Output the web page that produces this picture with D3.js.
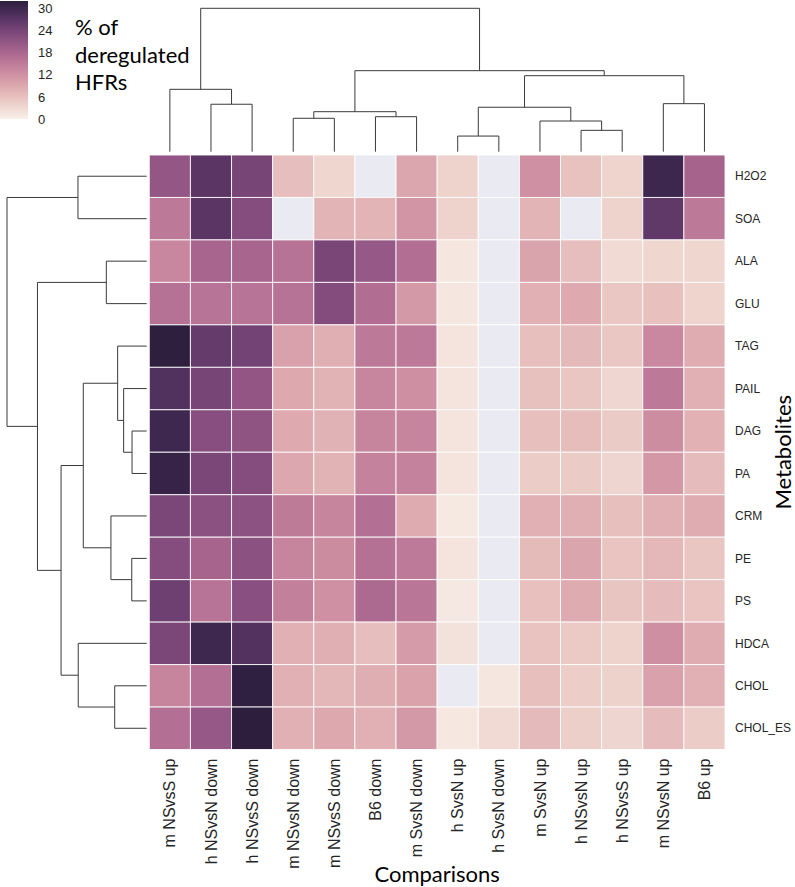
<!DOCTYPE html>
<html>
<head>
<meta charset="utf-8">
<script src="https://cdn.jsdelivr.net/npm/d3@7"></script>
<style>
  html, body { margin: 0; padding: 0; background: #ffffff; }
  svg { display: block; }
</style>
</head>
<body>
<svg id="chart" width="795" height="887"></svg>
<script>
// ---------- data ----------
const rowLabels = ["H2O2","SOA","ALA","GLU","TAG","PAIL","DAG","PA","CRM","PE","PS","HDCA","CHOL","CHOL_ES"];
const colLabels = ["m NSvsS up","h NSvsN down","h NSvsS down","m NSvsN down","m NSvsS down","B6 down","m SvsN down","h SvsN up","h SvsN down","m SvsN up","h NSvsN up","h NSvsS up","m NSvsN up","B6 up"];

// % of deregulated HFRs (null = no value, drawn as background)
const valH2O2   = [20.7, 27.0, 24.0,  6.3,  3.4, null,  9.3, 3.7, null, 12.2, 5.8, 3.6, 30.2, 18.5];
const valSOA    = [15.3, 27.0, 22.5, null,  7.6,  7.6, 11.5, 3.8, null,  7.6, null, 3.8, 26.3, 15.3];
const valALA    = [13.3, 18.2, 18.2, 16.2, 23.7, 20.5, 16.8, 1.4, null,  9.6, 6.3, 2.9,  3.4,  3.4];
const valGLU    = [16.3, 16.0, 16.0, 16.2, 22.7, 17.0, 11.0, 1.4, null,  8.0, 8.8, 5.2,  5.9,  3.6];
const valTAG    = [31.9, 26.0, 24.3, 10.0,  8.2, 15.2, 15.2, 1.6, null,  6.2, 6.9, 5.2, 13.2,  8.6];
const valPAIL   = [28.0, 24.0, 21.0,  8.9,  7.7, 13.5, 12.3, 1.6, null,  6.0, 5.3, 3.3, 15.2,  8.0];
const valDAG    = [30.0, 22.2, 21.2,  8.8,  7.8, 13.7, 13.7, 1.6, null,  6.2, 6.5, 4.7, 12.6,  7.9];
const valPA     = [31.0, 23.5, 22.4,  9.2,  7.7, 14.1, 14.1, 1.6, null,  4.6, 4.7, 3.5, 11.3,  6.6];
const valCRM    = [23.5, 21.8, 21.6, 15.1, 13.6, 16.6,  8.7, 1.0, null,  8.0, 8.2, 6.1,  8.0,  8.5];
const valPE     = [22.5, 18.3, 21.8, 13.6, 12.7, 16.5, 15.0, 1.6, null,  6.7, 9.5, 5.6,  7.1,  5.3];
const valPS     = [25.0, 16.0, 22.0, 14.4, 12.2, 17.6, 15.8, 1.2, null,  5.9, 8.7, 5.5,  6.6,  5.6];
const valHDCA   = [23.5, 30.0, 27.8,  8.0,  8.2,  6.3, 10.7, 1.9, null,  5.7, 4.8, 3.7, 12.3,  8.6];
const valCHOL   = [13.7, 16.6, 31.8,  8.0,  7.2,  8.3,  9.7, null, 1.3,  6.2, 4.5, 4.0, 10.0,  8.0];
const valCHOL_ES= [16.6, 20.5, 32.0,  8.0,  8.9,  8.0, 11.0, 1.1,  2.9,  6.8, 4.2, 3.5,  6.6,  4.6];
const values = [valH2O2, valSOA, valALA, valGLU, valTAG, valPAIL, valDAG, valPA, valCRM, valPE, valPS, valHDCA, valCHOL, valCHOL_ES];

// colour bar
const cbDomain = [0, 32];
const cbTicks = [0, 6, 12, 18, 24, 30];
const cbTitle = ["% of", "deregulated", "HFRs"];

// column linkage (scipy style: ids >= 14 refer to earlier merges)
const colLinkA = [7, 10, 9, 3, 5, 17, 14, 1, 12, 0, 20, 19, 23];
const colLinkB = [8, 11, 15, 4, 6, 18, 16, 2, 13, 21, 22, 24, 25];
const colLinkH = [0.109, 0.149, 0.214, 0.233, 0.244, 0.279, 0.310, 0.331, 0.335, 0.435, 0.530, 0.565, 1.0];

// row linkage
const rowLinkA = [6, 9, 5, 4, 12, 8, 2, 17, 11, 0, 21, 20, 23];
const rowLinkB = [7, 10, 14, 16, 13, 15, 3, 19, 18, 1, 22, 24, 25];
const rowLinkH = [0.105, 0.107, 0.165, 0.208, 0.229, 0.256, 0.289, 0.454, 0.490, 0.492, 0.613, 0.782, 1.0];

const xTitle = "Comparisons";
const yTitle = "Metabolites";

// ---------- colour map (seaborn cubehelix) ----------
function cubehelixSeaborn(t) {
  const start = 0, rot = 0.4, gamma = 1.0, hue = 0.8, light = 0.95, dark = 0.15;
  const x = light + (dark - light) * t;
  const xg = Math.pow(x, gamma);
  const a = hue * xg * (1 - xg) / 2;
  const phi = 2 * Math.PI * (start / 3 + rot * x);
  const c = Math.cos(phi), s = Math.sin(phi);
  const clip = v => Math.max(0, Math.min(1, v));
  const r = clip(xg + a * (-0.14861 * c + 1.78277 * s));
  const g = clip(xg + a * (-0.29227 * c - 0.90649 * s));
  const b = clip(xg + a * (1.97294 * c));
  return d3.rgb(r * 255, g * 255, b * 255).formatHex();
}
const color = d3.scaleSequential(cubehelixSeaborn).domain(cbDomain);
const missingColor = "#eaeaf2";

// ---------- layout ----------
const svg = d3.select("#chart");
const hm = { left: 149.3, right: 725, top: 155, bottom: 749.5 };
const x = d3.scaleBand().domain(colLabels).range([hm.left, hm.right]);
const y = d3.scaleBand().domain(rowLabels).range([hm.top, hm.bottom]);
const tickFont = "'Liberation Sans', Arial, sans-serif";
const titleFont = "Lato, 'Open Sans', sans-serif";

// cells
const cells = [];
values.forEach((row, i) => row.forEach((v, j) => cells.push({ r: rowLabels[i], c: colLabels[j], v })));
svg.append("g").selectAll("rect").data(cells).join("rect")
  .attr("x", d => x(d.c))
  .attr("y", d => y(d.r))
  .attr("width", x.bandwidth())
  .attr("height", y.bandwidth())
  .attr("fill", d => d.v == null ? missingColor : color(d.v))
  .attr("stroke", "#ffffff")
  .attr("stroke-opacity", 0.85)
  .attr("stroke-width", 1);

// row labels
svg.append("g").selectAll("text").data(rowLabels).join("text")
  .attr("x", hm.right + 10)
  .attr("y", d => y(d) + y.bandwidth() / 2)
  .attr("dy", "0.35em")
  .attr("font-family", tickFont)
  .attr("font-size", 12)
  .attr("fill", "#262626")
  .text(d => d);

// column labels
svg.append("g").selectAll("text").data(colLabels).join("text")
  .attr("transform", d => `translate(${x(d) + x.bandwidth() / 2},${hm.bottom + 9}) rotate(-90)`)
  .attr("text-anchor", "end")
  .attr("dy", "0.35em")
  .attr("font-family", tickFont)
  .attr("font-size", 16)
  .attr("fill", "#262626")
  .text(d => d);

// axis titles
svg.append("text")
  .attr("x", (hm.left + hm.right) / 2)
  .attr("y", 882)
  .attr("text-anchor", "middle")
  .attr("font-family", titleFont)
  .attr("font-size", 22)
  .attr("fill", "#000")
  .text(xTitle);
svg.append("text")
  .attr("transform", `translate(791,${(hm.top + hm.bottom) / 2}) rotate(-90)`)
  .attr("text-anchor", "middle")
  .attr("font-family", titleFont)
  .attr("font-size", 22)
  .attr("fill", "#000")
  .text(yTitle);

// ---------- dendrograms ----------
function buildLinks(n, A, B, H, leafPos) {
  const pos = [], ht = [];
  for (let i = 0; i < n; i++) { pos[i] = leafPos(i); ht[i] = 0; }
  const segs = [];
  for (let k = 0; k < A.length; k++) {
    const a = A[k], b = B[k], id = n + k;
    pos[id] = (pos[a] + pos[b]) / 2;
    ht[id] = H[k];
    segs.push({ pa: pos[a], ha: ht[a], pb: pos[b], hb: ht[b], h: H[k] });
  }
  return segs;
}
const colD = d3.scaleLinear().domain([0, 1]).range([151.7, 8.3]);
const colSegs = buildLinks(colLabels.length, colLinkA, colLinkB, colLinkH, i => x(colLabels[i]) + x.bandwidth() / 2);
svg.append("g").selectAll("path").data(colSegs).join("path")
  .attr("d", s => `M${s.pa},${colD(s.ha)}V${colD(s.h)}H${s.pb}V${colD(s.hb)}`)
  .attr("fill", "none")
  .attr("stroke", "#3a3a3a")
  .attr("stroke-width", 1);

const rowD = d3.scaleLinear().domain([0, 1]).range([146.7, 7]);
const rowSegs = buildLinks(rowLabels.length, rowLinkA, rowLinkB, rowLinkH, i => y(rowLabels[i]) + y.bandwidth() / 2);
svg.append("g").selectAll("path").data(rowSegs).join("path")
  .attr("d", s => `M${rowD(s.ha)},${s.pa}H${rowD(s.h)}V${s.pb}H${rowD(s.hb)}`)
  .attr("fill", "none")
  .attr("stroke", "#3a3a3a")
  .attr("stroke-width", 1);

// ---------- colour bar ----------
const cbY = d3.scaleLinear().domain(cbDomain).range([119, 1]);
const defs = svg.append("defs");
const grad = defs.append("linearGradient").attr("id", "cbgrad")
  .attr("x1", 0).attr("y1", 1).attr("x2", 0).attr("y2", 0);
d3.range(0, 1.0001, 0.05).forEach(t => {
  grad.append("stop").attr("offset", t).attr("stop-color", color(cbDomain[0] + t * (cbDomain[1] - cbDomain[0])));
});
svg.append("rect")
  .attr("x", 0).attr("y", cbY(cbDomain[1]))
  .attr("width", 28).attr("height", cbY(cbDomain[0]) - cbY(cbDomain[1]))
  .attr("fill", "url(#cbgrad)");
const cbAxis = svg.append("g").attr("transform", "translate(28,0)")
  .call(d3.axisRight(cbY).tickValues(cbTicks).tickSize(0).tickPadding(10));
cbAxis.select(".domain").remove();
cbAxis.selectAll("text")
  .attr("font-family", tickFont)
  .attr("font-size", 13)
  .attr("fill", "#262626");

svg.append("text")
  .attr("font-family", titleFont)
  .attr("font-size", 22)
  .attr("fill", "#000")
  .selectAll("tspan").data(cbTitle).join("tspan")
  .attr("x", 75)
  .attr("y", (d, i) => 35 + i * 27.5)
  .text(d => d);
</script>
</body>
</html>
